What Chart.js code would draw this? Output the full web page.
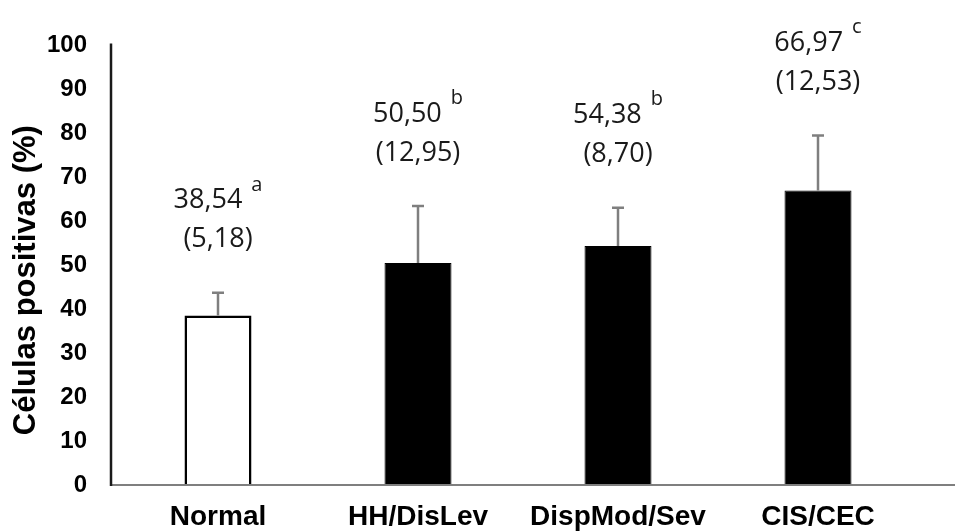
<!DOCTYPE html>
<html>
<head>
<meta charset="utf-8">
<script src="https://cdn.jsdelivr.net/npm/chart.js@4/dist/chart.umd.min.js"></script>
<style>
    html, body { margin: 0; padding: 0; background: #FFFFFF; }
    #wrap { width: 955px; height: 532px; position: relative; }
</style>
</head>
<body>
<div id="wrap"><canvas id="grafica"></canvas></div>
<script>
// ===== DATOS =====
const categorias = ['Normal', 'HH/DisLev', 'DispMod/Sev', 'CIS/CEC'];
const medias = [38.54, 50.50, 54.38, 66.97];
const desviaciones = [5.18, 12.95, 8.70, 12.53];
const letras = ['a', 'b', 'b', 'c'];
const ticksY = [0, 10, 20, 30, 40, 50, 60, 70, 80, 90, 100];
const tituloY = 'Células positivas (%)';

const rellenos = ['#FFFFFF', '#000000', '#000000', '#000000'];
const bordes = [2.5, 1, 1, 1];

const FUENTE_EJES = "'Liberation Sans', Arial, sans-serif";

function fmt(v) {
    return v.toFixed(2).replace('.', ',');
}

// Ejes y título dibujados a mano (el eje Y queda un poco a la izquierda del área de categorías)
const ejes = {
    id: 'ejes',
    afterDatasetsDraw(chart) {
        const { ctx, chartArea } = chart;
        const y = chart.scales.y;
        const x0 = chartArea.left - 7;
        ctx.save();
        ctx.strokeStyle = '#7F7F7F';
        ctx.lineWidth = 2;
        ctx.beginPath();
        ctx.moveTo(x0, y.getPixelForValue(0));
        ctx.lineTo(chart.width, y.getPixelForValue(0));
        ctx.stroke();
        ctx.strokeStyle = '#1A1A1A';
        ctx.lineWidth = 2.5;
        ctx.beginPath();
        ctx.moveTo(x0, y.getPixelForValue(100) - 2);
        ctx.lineTo(x0, y.getPixelForValue(0) + 1);
        ctx.stroke();

        // título del eje Y
        ctx.translate(26, (chartArea.top + chartArea.bottom) / 2 + 15);
        ctx.rotate(-Math.PI / 2);
        ctx.font = 'bold 31px ' + FUENTE_EJES;
        ctx.fillStyle = '#000000';
        ctx.textAlign = 'center';
        ctx.textBaseline = 'middle';
        ctx.fillText(tituloY, 0, 0);
        ctx.restore();
    }
};

// Barras de error (solo hacia arriba) y etiquetas media/(DE)
const errores = {
    id: 'errores',
    afterDatasetsDraw(chart) {
        const { ctx } = chart;
        const y = chart.scales.y;
        const meta = chart.getDatasetMeta(0);
        ctx.save();
        meta.data.forEach((bar, i) => {
            const yTop = y.getPixelForValue(medias[i] + desviaciones[i]);
            const yBar = y.getPixelForValue(medias[i]);
            ctx.strokeStyle = '#7F7F7F';
            ctx.lineWidth = 2.5;
            ctx.beginPath();
            ctx.moveTo(bar.x, yBar);
            ctx.lineTo(bar.x, yTop);
            ctx.moveTo(bar.x - 6, yTop);
            ctx.lineTo(bar.x + 6, yTop);
            ctx.stroke();

            // etiquetas
            const txt = fmt(medias[i]);
            ctx.fillStyle = '#1A1A1A';
            ctx.textBaseline = 'middle';
            ctx.font = "27px 'Open Sans'";
            const wTxt = ctx.measureText(txt).width;
            ctx.font = "20px 'Open Sans'";
            const wSup = ctx.measureText(letras[i]).width;
            const gap = 9;
            const start = bar.x - (wTxt + gap + wSup) / 2;
            const l1 = yTop - 92;
            const l2 = yTop - 53;
            ctx.textAlign = 'left';
            ctx.font = "27px 'Open Sans'";
            ctx.fillText(txt, start, l1);
            ctx.font = "20px 'Open Sans'";
            ctx.fillText(letras[i], start + wTxt + gap, l1 - 16);
            ctx.textAlign = 'center';
            ctx.font = "27px 'Open Sans'";
            ctx.fillText('(' + fmt(desviaciones[i]) + ')', bar.x, l2);
        });
        ctx.restore();
    }
};

new Chart(document.getElementById('grafica'), {
    type: 'bar',
    data: {
        labels: categorias,
        datasets: [{
            data: medias,
            backgroundColor: rellenos,
            borderColor: '#000000',
            borderWidth: bordes,
            barPercentage: 0.335,
            categoryPercentage: 1
        }]
    },
    options: {
        responsive: true,
        maintainAspectRatio: false,
        animation: false,
        layout: {
            padding: { top: 39, right: 37, left: 0, bottom: 0 }
        },
        plugins: {
            legend: { display: false },
            tooltip: { enabled: false }
        },
        scales: {
            x: {
                grid: { display: false },
                border: { display: false },
                ticks: {
                    color: '#000000',
                    padding: 7,
                    font: { family: FUENTE_EJES, size: 28, weight: 'bold' }
                },
                afterFit(scale) { scale.height = 47; }
            },
            y: {
                min: 0,
                max: 100,
                grid: { display: false, drawTicks: false },
                border: { display: false },
                afterBuildTicks(scale) {
                    scale.ticks = ticksY.map(v => ({ value: v }));
                },
                ticks: {
                    color: '#000000',
                    padding: 31,
                    font: { family: FUENTE_EJES, size: 24, weight: 'bold' }
                },
                afterFit(scale) { scale.width = 118; }
            }
        }
    },
    plugins: [ejes, errores]
});
</script>
</body>
</html>
